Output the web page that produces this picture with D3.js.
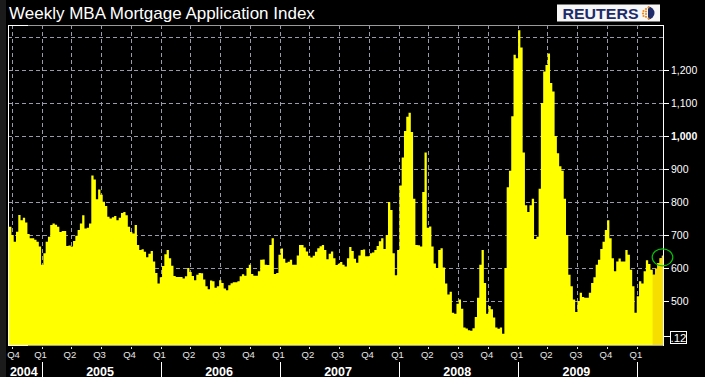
<!DOCTYPE html>
<html>
<head>
<meta charset="utf-8">
<script src="https://cdn.jsdelivr.net/npm/d3@7"></script>
<style>
  body { margin: 0; background: #000; }
  svg { display: block; }
  text { font-family: "Liberation Sans", Arial, Helvetica, sans-serif; }
</style>
</head>
<body>
<div id="chart"></div>
<script>
const chartTitle = 'Weekly MBA Mortgage Application Index';
const firstWeek = '2004-09-20';
const lastWeek = '2010-03-22';
const recentFrom = '2010-02-18';
const lastLabel = '.12';

// weekly index values
const indexValues = [
  725, 725, 700, 680, 710, 761, 745, 752, 738, 703,
  690, 690, 686, 680, 665, 610, 645, 680, 695, 730,
  735, 731, 725, 709, 712, 712, 667, 668, 665, 682,
  698, 715, 735, 760, 720, 722, 735, 880, 868, 808,
  838, 822, 801, 788, 755, 750, 754, 758, 745, 752,
  767, 770, 760, 725, 709, 705, 730, 670, 655, 657,
  649, 633, 643, 652, 620, 585, 553, 572, 606, 642,
  655, 630, 607, 576, 573, 573, 573, 568, 575, 600,
  588, 576, 563, 580, 585, 584, 565, 545, 536, 562,
  560, 540, 545, 563, 555, 538, 533, 548, 554, 557,
  557, 560, 575, 581, 577, 600, 610, 582, 577, 577,
  590, 625, 626, 610, 609, 670, 690, 582, 585, 640,
  659, 628, 616, 619, 625, 610, 610, 638, 670, 670,
  662, 650, 637, 632, 637, 649, 660, 666, 670, 655,
  627, 643, 650, 630, 609, 613, 618, 610, 605, 630,
  664, 652, 628, 616, 638, 655, 656, 636, 636, 645,
  647, 655, 667, 681, 690, 658, 700, 800, 776, 645,
  578, 655, 850, 935, 1015, 1058, 1070, 1012, 810, 670,
  669, 665, 830, 950, 722, 726, 665, 614, 600, 655,
  660, 602, 553, 520, 528, 465, 462, 492, 505, 477,
  420, 417, 412, 410, 418, 452, 510, 610, 655, 555,
  462, 485, 475, 450, 420, 416, 420, 401, 600, 845,
  895, 1060, 1246, 1235, 1320, 1268, 950, 790, 770, 790,
  810, 688, 695, 840, 1100, 1195, 1215, 1250, 1160, 1135,
  1000, 948, 908, 895, 810, 700, 580, 545, 505, 467,
  500, 525, 512, 510, 510, 525, 555, 572, 610, 625,
  658, 680, 715, 745, 690, 630, 590, 620, 629, 620,
  620, 655, 640, 595, 545, 465, 515, 560, 553, 590,
  624, 612, 595, 580, 598, 615, 630, 637
];
const yTicks = [500, 600, 700, 800, 900, 1000, 1100, 1200];
const gridValues = [500, 600, 700, 800, 900, 1000, 1100, 1200, 1300];
const yearLabels = ['2004', '2005', '2006', '2007', '2008', '2009'];

const width = 705;
const height = 377;
const plot = { left: 8, right: 663, top: 25, bottom: 345 };

const parseDate = d3.timeParse('%Y-%m-%d');
const start = parseDate(firstWeek);
const end = parseDate(lastWeek);
const weeks = indexValues.map((v, i) => ({ date: d3.timeDay.offset(start, i * 7), value: v }));

const x = d3.scaleTime().domain([start, end]).range([plot.left, plot.right]);
const y = d3.scaleLinear().domain([367, 1336]).range([plot.bottom, plot.top]);

const svg = d3.select('#chart').append('svg')
    .attr('width', width)
    .attr('height', height);

svg.append('rect').attr('width', width).attr('height', height).attr('fill', '#000');
svg.append('rect').attr('width', 6).attr('height', height).attr('fill', '#1b1b1b');

const defs = svg.append('defs');
defs.append('clipPath').attr('id', 'plotclip')
    .append('rect')
    .attr('x', plot.left).attr('y', plot.top)
    .attr('width', plot.right - plot.left).attr('height', plot.bottom - plot.top);

// quarters
const quarters = d3.timeMonth.range(new Date(2004, 9, 1), end, 3);

// dashed grid, behind the area
const grid = svg.append('g');
grid.selectAll('line.hg')
    .data(gridValues)
    .enter()
    .append('line')
    .attr('class', 'hg')
    .attr('x1', plot.left).attr('x2', plot.right)
    .attr('y1', d => Math.round(y(d)) + 0.5)
    .attr('y2', d => Math.round(y(d)) + 0.5)
    .attr('stroke', '#9a9aaa')
    .attr('stroke-dasharray', '4 3');
grid.selectAll('line.vg')
    .data(quarters)
    .enter()
    .append('line')
    .attr('class', 'vg')
    .attr('x1', d => Math.round(x(d)) + 0.5)
    .attr('x2', d => Math.round(x(d)) + 0.5)
    .attr('y1', plot.top).attr('y2', plot.bottom)
    .attr('stroke', '#9a9aaa')
    .attr('stroke-dasharray', '4 3');

const area = d3.area()
    .x(d => x(d.date))
    .y0(plot.bottom)
    .y1(d => y(d.value))
    .curve(d3.curveStep);

const areaG = svg.append('g').attr('clip-path', 'url(#plotclip)');
areaG.append('path')
    .attr('d', area(weeks))
    .attr('fill', '#ffff00');

// most recent weeks in a darker yellow
const recentX = x(parseDate(recentFrom));
defs.append('clipPath').attr('id', 'recentclip')
    .append('rect')
    .attr('x', recentX).attr('y', plot.top)
    .attr('width', plot.right - recentX).attr('height', plot.bottom - plot.top);
areaG.append('g').attr('clip-path', 'url(#recentclip)')
    .append('path')
    .attr('d', area(weeks))
    .attr('fill', '#f6de00');

// frame
const frame = svg.append('g');
frame.append('line')
    .attr('x1', plot.left).attr('x2', plot.right)
    .attr('y1', plot.top + 0.5).attr('y2', plot.top + 0.5)
    .attr('stroke', '#9a9a9a');
frame.append('line')
    .attr('x1', plot.left).attr('x2', plot.right)
    .attr('y1', plot.bottom + 0.5).attr('y2', plot.bottom + 0.5)
    .attr('stroke', '#9a9a9a');
frame.append('line')
    .attr('x1', plot.left).attr('x2', plot.left + 20)
    .attr('y1', plot.top + 0.5).attr('y2', plot.top + 0.5)
    .attr('stroke', '#fff');
frame.append('line')
    .attr('x1', plot.right - 23).attr('x2', plot.right)
    .attr('y1', plot.top + 0.5).attr('y2', plot.top + 0.5)
    .attr('stroke', '#fff');
frame.append('line')
    .attr('x1', plot.left).attr('x2', plot.left + 20)
    .attr('y1', plot.bottom + 0.5).attr('y2', plot.bottom + 0.5)
    .attr('stroke', '#fff');
frame.append('line')
    .attr('x1', plot.left + 0.5).attr('x2', plot.left + 0.5)
    .attr('y1', plot.top).attr('y2', plot.bottom + 1)
    .attr('stroke', '#fff');
frame.append('line')
    .attr('x1', plot.right + 0.5).attr('x2', plot.right + 0.5)
    .attr('y1', plot.top).attr('y2', plot.bottom + 1)
    .attr('stroke', '#fff');

// last value marker
const last = weeks[weeks.length - 1];
svg.append('ellipse')
    .attr('cx', x(last.date) - 0.5)
    .attr('cy', y(last.value) + 1.5)
    .attr('rx', 10.3).attr('ry', 8.5)
    .attr('fill', 'none')
    .attr('stroke', '#00c800')
    .attr('stroke-width', 1.2);

// right axis
const yAxis = svg.append('g');
yAxis.selectAll('line')
    .data(yTicks)
    .enter()
    .append('line')
    .attr('x1', plot.right).attr('x2', plot.right + 6)
    .attr('y1', d => Math.round(y(d)) + 0.5)
    .attr('y2', d => Math.round(y(d)) + 0.5)
    .attr('stroke', '#fff');
yAxis.selectAll('text')
    .data(yTicks)
    .enter()
    .append('text')
    .attr('x', plot.right + 8)
    .attr('y', d => y(d))
    .attr('dy', '0.36em')
    .attr('fill', '#fff')
    .attr('font-size', 10.5)
    .attr('font-weight', d => d === 1000 ? 'bold' : 'normal')
    .text(d => d3.format(',')(d));

svg.append('line')
    .attr('x1', plot.right).attr('x2', plot.right + 7)
    .attr('y1', 336.5).attr('y2', 336.5)
    .attr('stroke', '#fff');
svg.append('rect')
    .attr('x', plot.right + 7.5).attr('y', 331.5)
    .attr('width', 16).attr('height', 12)
    .attr('fill', '#000')
    .attr('stroke', '#fff');
svg.append('text')
    .attr('x', plot.right + 15.5).attr('y', 341.5)
    .attr('text-anchor', 'middle')
    .attr('fill', '#fff')
    .attr('font-size', 11.5)
    .text(lastLabel);

// bottom axis: quarters
const xAxis = svg.append('g');
xAxis.selectAll('line')
    .data(quarters)
    .enter()
    .append('line')
    .attr('x1', d => Math.round(x(d)) + 0.5)
    .attr('x2', d => Math.round(x(d)) + 0.5)
    .attr('y1', plot.bottom + 2).attr('y2', plot.bottom + 4)
    .attr('stroke', '#ddd');
xAxis.selectAll('text')
    .data(quarters)
    .enter()
    .append('text')
    .attr('x', d => Math.max(x(d) - 1, 13.5))
    .attr('y', 358)
    .attr('text-anchor', 'middle')
    .attr('fill', '#e6e6e6')
    .attr('font-size', 9.5)
    .text(d => 'Q' + (Math.floor(d.getMonth() / 3) + 1));

// years
const yearStarts = yearLabels.map(d => new Date(+d + 1, 0, 1));
svg.selectAll('.ydiv')
    .data(yearStarts)
    .enter()
    .append('line')
    .attr('x1', d => Math.round(x(d)) + 0.5)
    .attr('x2', d => Math.round(x(d)) + 0.5)
    .attr('y1', 362).attr('y2', height)
    .attr('stroke', '#fff');
svg.selectAll('.ylab')
    .data(yearLabels)
    .enter()
    .append('text')
    .attr('x', d => {
        const a = Math.max(x(new Date(+d, 0, 1)), plot.left);
        const b = Math.min(x(new Date(+d + 1, 0, 1)), plot.right);
        return (a + b) / 2 - 1;
    })
    .attr('y', 375.5)
    .attr('text-anchor', 'middle')
    .attr('fill', '#fff')
    .attr('font-size', 12.5)
    .attr('font-weight', 'bold')
    .text(d => d);

// title
svg.append('text')
    .attr('x', 9).attr('y', 19.3)
    .attr('fill', '#fff')
    .attr('font-size', 17)
    .text(chartTitle);

// reuters logo
const logo = svg.append('g');
logo.append('rect')
    .attr('x', 557).attr('y', 4.5)
    .attr('width', 103).attr('height', 17)
    .attr('fill', '#f7f7f7');
logo.append('text')
    .attr('x', 562.5).attr('y', 18.5)
    .attr('fill', '#1d2b6b')
    .attr('font-size', 14)
    .attr('font-weight', 'bold')
    .attr('textLength', 76)
    .attr('lengthAdjust', 'spacingAndGlyphs')
    .text('REUTERS');
logo.append('path')
    .attr('d', d3.arc()({ innerRadius: 0, outerRadius: 6.5, startAngle: 0, endAngle: Math.PI }))
    .attr('transform', 'translate(648,13)')
    .attr('fill', '#1d2b6b');
const dots = [[-2, -4], [-4.5, -2], [-2, -1.5], [-5, 0.5], [-2, 1], [-4.5, 3], [-2, 3.8], [0.5, -5.5], [0.5, 5.5]];
logo.selectAll('.dot')
    .data(dots)
    .enter()
    .append('circle')
    .attr('cx', d => 648 + d[0])
    .attr('cy', d => 13 + d[1])
    .attr('r', 1.1)
    .attr('fill', '#f08a1c');
</script>
</body>
</html>
